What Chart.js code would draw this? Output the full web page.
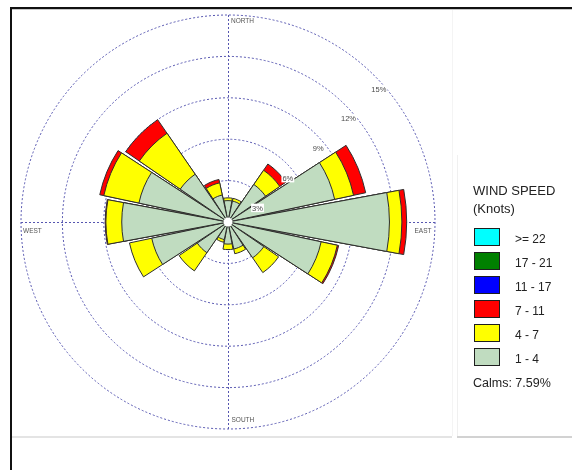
<!DOCTYPE html>
<html>
<head>
<meta charset="utf-8">
<script src="https://cdn.jsdelivr.net/npm/chart.js@4.4.1/dist/chart.umd.min.js"></script>
<style>
  html, body { margin: 0; padding: 0; background: #fff; }
  #wrap { position: relative; width: 572px; height: 470px; overflow: hidden;
          font-family: 'Liberation Sans', Arial, sans-serif; color: #222; }
  #rose { position: absolute; left: 0; top: 0; }
  .rule { position: absolute; }
  .title { position: absolute; left: 473px; font-size: 13px; line-height: 15px; white-space: nowrap; }
  .swatch { position: absolute; left: 474px; width: 24px; height: 16px; border: 1px solid #1e1e1e; }
  .item { position: absolute; left: 515px; font-size: 12px; line-height: 14px; white-space: nowrap; }
  .calms { position: absolute; left: 473px; font-size: 12.5px; line-height: 15px; white-space: nowrap; }
</style>
</head>
<body>
<div id="wrap">
  <canvas id="rose" width="572" height="470"></canvas>
  <!-- page frame -->
  <div class="rule" style="left:10px;top:7px;width:562px;height:2px;background:#111;"></div>
  <div class="rule" style="left:12px;top:9px;width:560px;height:1px;background:#c8c8c8;"></div>
  <div class="rule" style="left:10px;top:7px;width:2px;height:463px;background:#111;"></div>
  <div class="rule" style="left:12px;top:436px;width:440px;height:2px;background:#e4e4e4;"></div>
  <div class="rule" style="left:457px;top:436px;width:115px;height:2px;background:#d2d2d2;"></div>
  <div class="rule" style="left:452px;top:10px;width:1px;height:426px;background:#f4f4f4;"></div>
  <div class="rule" style="left:457px;top:155px;width:1px;height:281px;background:#f0f0f0;"></div>
  <div id="legend"></div>
</div>
<script>
// Wind directions (16 compass points, clockwise from north)
const directions = ['N', 'NNE', 'NE', 'ENE', 'E', 'ESE', 'SE', 'SSE',
                    'S', 'SSW', 'SW', 'WSW', 'W', 'WNW', 'NW', 'NNW'];

// Wind speed classes (knots) and their colours
const speedClasses = ['1 - 4', '4 - 7', '7 - 11', '11 - 17', '17 - 21', '>= 22'];
const classColors  = ['#c0dcc0', '#ffff00', '#ff0000', '#0000ff', '#008000', '#00ffff'];

// Frequency (% of all hours) per direction for each speed class
const freq_1_4   = [1.55, 1.55, 3.30, 7.90, 11.70, 6.90, 3.15, 2.00, 1.60, 1.30, 2.70, 5.65, 7.70, 6.60, 4.20, 2.00];
const freq_4_7   = [0.20, 0.20, 1.25, 1.40, 0.90, 1.20, 1.30, 0.35, 0.40, 0.20, 1.60, 1.65, 1.15, 2.60, 3.60, 0.90];
const freq_7_11  = [0.00, 0.00, 0.55, 0.90, 0.35, 0.10, 0.00, 0.00, 0.00, 0.00, 0.00, 0.00, 0.05, 0.30, 1.20, 0.25];
const freq_11_17 = [0, 0, 0, 0, 0, 0, 0, 0, 0, 0, 0, 0, 0, 0, 0, 0];
const freq_17_21 = [0, 0, 0, 0, 0, 0, 0, 0, 0, 0, 0, 0, 0, 0, 0, 0];
const freq_ge22  = [0, 0, 0, 0, 0, 0, 0, 0, 0, 0, 0, 0, 0, 0, 0, 0];

const calmPercent = 7.59;

// Radial rings (%)
const ringTicks = [3, 6, 9, 12, 15];
const ringLabels = ringTicks.map(v => v + '%');
const compassLabels = ['NORTH', 'EAST', 'SOUTH', 'WEST'];

const SECTOR_DEG = 21;   // width of each petal
const GAP_DEG = 1.5;     // white gap between petals
const GRID_COLOR = '#5656b0';

// Stack the classes: each ring of a petal ends at the running total
const classFreqs = [freq_1_4, freq_4_7, freq_7_11, freq_11_17, freq_17_21, freq_ge22];
const running = directions.map(() => 0);
const sliceLabels = [];
directions.forEach(d => { sliceLabels.push(d, ''); });

const datasets = classFreqs.map((freqs, k) => {
  const cumulative = freqs.map((v, i) => (running[i] += v));
  const data = [];
  cumulative.forEach(v => { data.push(v, 0); });
  const own = idx => (idx % 2 === 0 ? freqs[idx / 2] : 0);
  return {
    label: speedClasses[k],
    data,
    backgroundColor: c => (own(c.dataIndex) > 0 ? classColors[k] : 'rgba(0,0,0,0)'),
    borderColor: '#2e2e2e',
    borderWidth: c => (own(c.dataIndex) > 0 ? 1 : 0),
    angle: c => (c.dataIndex % 2 === 0 ? SECTOR_DEG : GAP_DEG)
  };
});

// Compass cross, calm circle, ring and compass captions
const roseDecor = {
  id: 'roseDecor',
  beforeDatasetsDraw(chart) {
    const s = chart.scales.r, ctx = chart.ctx;
    const R = s.getDistanceFromCenterForValue(s.max);
    ctx.save();
    ctx.strokeStyle = GRID_COLOR;
    ctx.lineWidth = 1;
    ctx.setLineDash([2, 2]);
    ctx.beginPath();
    ctx.moveTo(s.xCenter + 0.5, s.yCenter - R);
    ctx.lineTo(s.xCenter + 0.5, s.yCenter + R);
    ctx.moveTo(s.xCenter - R, s.yCenter + 0.5);
    ctx.lineTo(s.xCenter + R, s.yCenter + 0.5);
    ctx.stroke();
    ctx.restore();
  },
  afterDatasetsDraw(chart) {
    const s = chart.scales.r, ctx = chart.ctx;
    const xc = s.xCenter, yc = s.yCenter;
    const R = s.getDistanceFromCenterForValue(s.max);
    ctx.save();
    // calm circle
    ctx.fillStyle = '#fff';
    ctx.beginPath();
    ctx.arc(xc, yc, 4.5, 0, Math.PI * 2);
    ctx.fill();

    // ring captions
    ctx.font = '7.5px "Liberation Sans", Arial, sans-serif';
    ctx.textAlign = 'center';
    ctx.textBaseline = 'alphabetic';
    ringTicks.forEach((v, i) => {
      const r = s.getDistanceFromCenterForValue(v);
      const x = xc + 0.7325 * r - 0.8;
      const y = yc - 0.7186 * r + 18.4;
      const w = ctx.measureText(ringLabels[i]).width;
      ctx.fillStyle = '#fff';
      ctx.fillRect(x - w / 2 - 1, y - 7, w + 2, 8.5);
      ctx.fillStyle = '#4a4a4a';
      ctx.fillText(ringLabels[i], x, y);
    });

    // compass captions
    ctx.font = '6.5px "Liberation Sans", Arial, sans-serif';
    ctx.fillStyle = '#555';
    ctx.textAlign = 'left';
    ctx.fillText(compassLabels[0], xc + 3, yc - R + 8.3);
    ctx.fillText(compassLabels[2], xc + 3.5, yc + R - 6.7);
    ctx.fillText(compassLabels[3], xc - R + 2, yc + 10.7);
    ctx.textAlign = 'right';
    ctx.fillText(compassLabels[1], xc + R - 3.5, yc + 10.7);
    ctx.restore();
  }
};

new Chart(document.getElementById('rose'), {
  type: 'polarArea',
  data: { labels: sliceLabels, datasets },
  options: {
    responsive: false,
    animation: false,
    events: [],
    layout: { padding: { left: 21, top: 15, right: 137, bottom: 41 } },
    plugins: { legend: { display: false }, tooltip: { enabled: false } },
    scales: {
      r: {
        min: 0,
        max: 15,
        startAngle: -SECTOR_DEG / 2,
        ticks: { display: false, stepSize: 3 },
        grid: { color: GRID_COLOR, lineWidth: 1, circular: true },
        border: { dash: [2, 2] },
        angleLines: { display: false },
        pointLabels: { display: false }
      }
    }
  },
  plugins: [roseDecor]
});

// Legend panel
const legend = document.getElementById('legend');
function addEl(cls, text, top, extra) {
  const el = document.createElement('div');
  el.className = cls;
  el.style.top = top + 'px';
  if (text !== null) el.textContent = text;
  if (extra) Object.assign(el.style, extra);
  legend.appendChild(el);
}
addEl('title', 'WIND SPEED', 182.5);
addEl('title', '(Knots)', 200.5);
const rowTops = [228, 252, 276, 300, 324, 348];
speedClasses.slice().reverse().forEach((label, i) => {
  const k = speedClasses.length - 1 - i;
  addEl('swatch', null, rowTops[i], { background: classColors[k] });
  addEl('item', label, rowTops[i] + 3.5);
});
addEl('calms', 'Calms: ' + calmPercent.toFixed(2) + '%', 375.5);
</script>
</body>
</html>
